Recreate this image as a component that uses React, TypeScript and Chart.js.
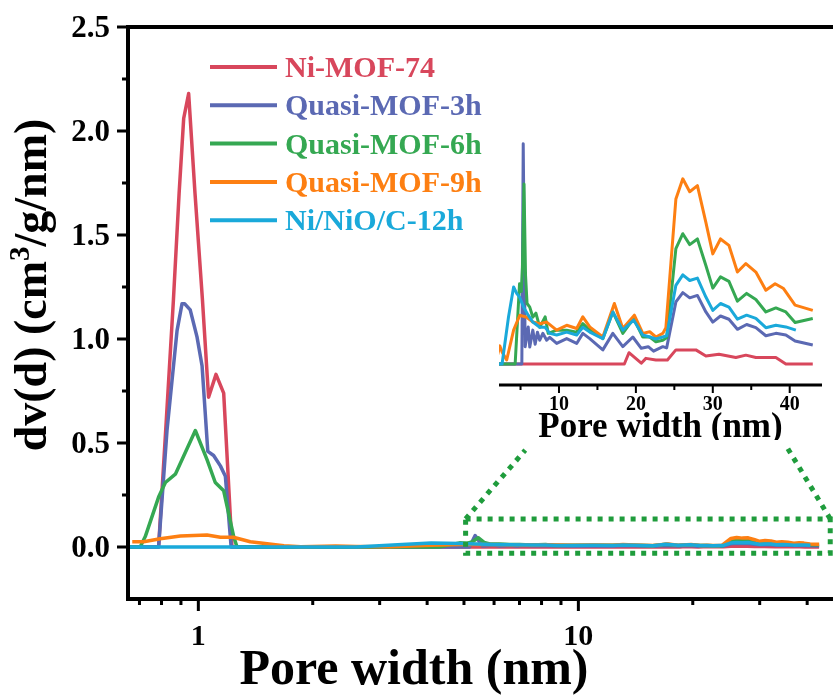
import React, { useEffect, useRef } from "react";
import { Chart, registerables } from "chart.js";

Chart.register(...registerables);

// ---------------- data ----------------
const SERIES_LABELS = ["Ni-MOF-74", "Quasi-MOF-3h", "Quasi-MOF-6h", "Quasi-MOF-9h", "Ni/NiO/C-12h"];
const SERIES_COLORS = ["#d8475c", "#5b69b3", "#35a852", "#fd7f12", "#1aa9da"];

// Pore width (nm)
const niMof74X = [0.653, 0.786, 0.823, 0.86, 0.89, 0.915, 0.943, 0.98, 1.025, 1.064, 1.113, 1.166, 1.226, 18.5, 19.1, 20.7, 21.3, 22.6, 24.1, 25.2, 27.8, 29.1, 30.8, 33.0, 34.3, 35.6, 38.2, 39.5, 43.0];
const niMof74Y = [0, 0, 0.6, 1.19, 1.7, 2.06, 2.18, 1.7, 1.19, 0.72, 0.83, 0.74, 0, 0, 0.0028, 0.0002, 0.0014, 0.001, 0.001, 0.0035, 0.0035, 0.002, 0.0024, 0.0016, 0.0022, 0.0016, 0.0016, 0, 0];

const quasi3hX = [0.653, 0.786, 0.827, 0.879, 0.906, 0.92, 0.952, 0.992, 1.023, 1.059, 1.097, 1.143, 1.178, 1.22, 5.17, 5.35, 5.6, 6.0, 6.2, 6.6, 6.9, 7.2, 7.5, 7.9, 8.4, 8.8, 9.7, 11.0, 12.3, 13.1, 14.0, 15.7, 17.0, 18.3, 19.6, 20.7, 21.6, 22.3, 23.5, 24.0, 25.2, 26.1, 27.0, 28.0, 29.1, 30.0, 31.0, 32.1, 33.2, 34.4, 35.6, 36.9, 38.2, 39.5, 40.7, 43.0];
const quasi3hY = [0, 0, 0.56, 1.04, 1.17, 1.17, 1.14, 1.01, 0.87, 0.46, 0.44, 0.39, 0.34, 0, 0, 0.0546, 0.0043, 0.0092, 0.0042, 0.0084, 0.0049, 0.0079, 0.0059, 0.0076, 0.0059, 0.0066, 0.0051, 0.0063, 0.0051, 0.0076, 0.0063, 0.0035, 0.0076, 0.0043, 0.0067, 0.0039, 0.0043, 0.0032, 0.0043, 0.004, 0.0154, 0.0177, 0.0164, 0.017, 0.0129, 0.0104, 0.0119, 0.0111, 0.0086, 0.0098, 0.009, 0.007, 0.0076, 0.0072, 0.0057, 0.0047];

const quasi6hX = [0.653, 0.703, 0.725, 0.786, 0.819, 0.87, 0.982, 1.054, 1.108, 1.166, 1.239, 1.264, 4.3, 4.87, 5.1, 5.25, 5.45, 5.65, 5.85, 6.2, 6.6, 7.0, 7.5, 8.2, 8.6, 9.7, 11.0, 12.3, 13.1, 14.0, 15.7, 17.0, 18.3, 19.7, 20.9, 21.8, 22.6, 23.5, 24.0, 25.2, 26.1, 27.0, 28.0, 29.1, 30.0, 31.0, 32.1, 33.2, 34.4, 35.6, 36.9, 38.2, 39.5, 40.7, 43.0];
const quasi6hY = [0, 0, 0.05, 0.24, 0.31, 0.35, 0.56, 0.42, 0.31, 0.27, 0.05, 0, 0, 0.0199, 0.018, 0.024, 0.0446, 0.022, 0.015, 0.0141, 0.0116, 0.0126, 0.0091, 0.0117, 0.0076, 0.0084, 0.0084, 0.0079, 0.01, 0.0084, 0.0063, 0.0129, 0.0076, 0.0113, 0.0067, 0.0067, 0.0055, 0.0059, 0.0065, 0.0286, 0.0323, 0.0296, 0.031, 0.0244, 0.0188, 0.0216, 0.0205, 0.0156, 0.0175, 0.016, 0.0129, 0.0139, 0.0129, 0.0103, 0.0113];

const quasi9hX = [0.67, 0.718, 0.794, 0.897, 1.054, 1.143, 1.236, 1.37, 1.68, 1.86, 2.3, 2.6, 3.2, 4.1, 4.9, 5.8, 6.6, 7.5, 8.4, 9.7, 11.0, 12.3, 13.1, 14.0, 15.7, 17.2, 18.3, 19.8, 20.9, 21.8, 22.6, 23.5, 23.9, 25.2, 26.1, 27.0, 28.0, 29.1, 30.0, 31.0, 32.1, 33.2, 34.3, 35.6, 36.9, 38.1, 39.2, 40.7, 43.0];
const quasi9hY = [0.025, 0.025, 0.04, 0.053, 0.058, 0.047, 0.047, 0.025, 0.006, 0.001, 0.0045, 0.003, 0.001, 0.0084, 0.0121, 0.0116, 0.0104, 0.01, 0.0104, 0.0084, 0.0096, 0.0088, 0.0117, 0.0092, 0.0067, 0.015, 0.0088, 0.0121, 0.0076, 0.008, 0.0067, 0.0076, 0.009, 0.0409, 0.0459, 0.0427, 0.0442, 0.0351, 0.0273, 0.031, 0.0294, 0.0228, 0.0249, 0.0228, 0.0183, 0.0199, 0.0187, 0.0146, 0.0133];

const niNiOCX = [0.653, 2.6, 3.44, 4.1, 4.5, 4.9, 5.4, 6.0, 6.6, 7.5, 8.2, 8.8, 9.7, 11.0, 12.3, 13.1, 14.0, 15.7, 17.0, 18.3, 19.7, 20.9, 21.8, 22.6, 23.5, 24.0, 25.2, 26.1, 27.0, 28.0, 29.1, 30.0, 31.0, 32.1, 33.2, 34.4, 35.6, 36.9, 38.2, 39.5, 40.8];
const niNiOCY = [0, 0, 0.0117, 0.0191, 0.0175, 0.0165, 0.0141, 0.0121, 0.0104, 0.0091, 0.0091, 0.0076, 0.0072, 0.0079, 0.0072, 0.0091, 0.0079, 0.0063, 0.0129, 0.0084, 0.0109, 0.0072, 0.0067, 0.0062, 0.0067, 0.007, 0.0195, 0.0221, 0.0207, 0.0213, 0.0166, 0.0133, 0.015, 0.0141, 0.0111, 0.0121, 0.0113, 0.009, 0.0096, 0.0092, 0.0084];

// axes
const MAIN_X_RANGE = [0.653, 50];
const MAIN_Y_RANGE = [-0.25, 2.5];
const MAIN_X_MAJOR = [1, 10];
const MAIN_X_LABELS = ["1", "10"];
const MAIN_X_MINOR = [0.7, 0.8, 0.9, 2, 3, 4, 5, 6, 7, 8, 9, 20, 30, 40];
const MAIN_Y_MAJOR = [0, 0.5, 1, 1.5, 2, 2.5];
const MAIN_Y_LABELS = ["0.0", "0.5", "1.0", "1.5", "2.0", "2.5"];
const MAIN_Y_MINOR = [0.25, 0.75, 1.25, 1.75, 2.25];

const INSET_X_RANGE = [2.2, 44.2];
const INSET_Y_RANGE = [-0.0052, 0.058];
const INSET_X_MAJOR = [10, 20, 30, 40];
const INSET_X_LABELS = ["10", "20", "30", "40"];
const INSET_X_MINOR = [5, 15, 25, 35];

// zoom-box annotation (data coordinates of main chart)
const ZOOM_BOX_X = [5.05, 46];
const ZOOM_BOX_Y = [-0.03, 0.135];
const ZOOM_LINK_LEFT = [7.25, 0.466];
const ZOOM_LINK_RIGHT = [35.5, 0.476];

const X_TITLE = "Pore width (nm)";
const Y_TITLE_PARTS = ["dv(d) (cm", "3", "/g/nm)"];

// ---------------- helpers ----------------
const SERIF = "'Liberation Serif', 'Times New Roman', serif";
const f = (size: number) => `bold ${size}px ${SERIF}`;

const SERIES = [
  { label: SERIES_LABELS[0], color: SERIES_COLORS[0], xs: niMof74X, ys: niMof74Y },
  { label: SERIES_LABELS[1], color: SERIES_COLORS[1], xs: quasi3hX, ys: quasi3hY },
  { label: SERIES_LABELS[2], color: SERIES_COLORS[2], xs: quasi6hX, ys: quasi6hY },
  { label: SERIES_LABELS[3], color: SERIES_COLORS[3], xs: quasi9hX, ys: quasi9hY },
  { label: SERIES_LABELS[4], color: SERIES_COLORS[4], xs: niNiOCX, ys: niNiOCY },
];

function buildDatasets(width: number) {
  return SERIES.map((s, i) => ({
    label: s.label,
    data: s.xs.map((x, k) => ({ x, y: s.ys[k] })),
    borderColor: s.color,
    backgroundColor: s.color,
    borderWidth: width,
    pointRadius: 0,
    tension: 0,
    fill: false,
    borderJoinStyle: "round",
    order: SERIES.length - 1 - i,
  }));
}

const mainDecor = {
  id: "mainDecor",
  afterDatasetsDraw(chart: any) {
    const ctx = chart.ctx as CanvasRenderingContext2D;
    const a = chart.chartArea;
    const xs = chart.scales.x;
    const ys = chart.scales.y;
    ctx.save();

    // dotted zoom box + connectors
    ctx.strokeStyle = "#1f9c3c";
    ctx.lineWidth = 5;
    ctx.setLineDash([5, 6]);
    const bx1 = xs.getPixelForValue(ZOOM_BOX_X[0]);
    const bx2 = xs.getPixelForValue(ZOOM_BOX_X[1]);
    const by1 = ys.getPixelForValue(ZOOM_BOX_Y[1]);
    const by2 = ys.getPixelForValue(ZOOM_BOX_Y[0]);
    ctx.strokeRect(bx1, by1, bx2 - bx1, by2 - by1);
    ctx.beginPath();
    ctx.moveTo(bx1, by1);
    ctx.lineTo(xs.getPixelForValue(ZOOM_LINK_LEFT[0]), ys.getPixelForValue(ZOOM_LINK_LEFT[1]));
    ctx.moveTo(bx2, by1);
    ctx.lineTo(xs.getPixelForValue(ZOOM_LINK_RIGHT[0]), ys.getPixelForValue(ZOOM_LINK_RIGHT[1]));
    ctx.stroke();
    ctx.setLineDash([]);

    // frame
    ctx.strokeStyle = "#000";
    ctx.lineWidth = 4;
    ctx.strokeRect(a.left, a.top, a.right - a.left, a.bottom - a.top);

    // ticks
    ctx.lineWidth = 3;
    ctx.beginPath();
    MAIN_X_MAJOR.forEach((v) => {
      const p = xs.getPixelForValue(v);
      ctx.moveTo(p, a.bottom);
      ctx.lineTo(p, a.bottom + 12);
    });
    MAIN_X_MINOR.forEach((v) => {
      const p = xs.getPixelForValue(v);
      ctx.moveTo(p, a.bottom);
      ctx.lineTo(p, a.bottom + 6);
    });
    MAIN_Y_MAJOR.forEach((v) => {
      const p = ys.getPixelForValue(v);
      ctx.moveTo(a.left - 11, p);
      ctx.lineTo(a.left, p);
    });
    MAIN_Y_MINOR.forEach((v) => {
      const p = ys.getPixelForValue(v);
      ctx.moveTo(a.left - 6, p);
      ctx.lineTo(a.left, p);
    });
    ctx.stroke();

    // tick labels
    ctx.fillStyle = "#000";
    ctx.font = f(31);
    ctx.textBaseline = "alphabetic";
    ctx.textAlign = "right";
    MAIN_Y_MAJOR.forEach((v, i) => {
      ctx.fillText(MAIN_Y_LABELS[i], a.left - 18, ys.getPixelForValue(v) + 10);
    });
    ctx.font = f(30);
    ctx.textAlign = "center";
    MAIN_X_MAJOR.forEach((v, i) => {
      ctx.fillText(MAIN_X_LABELS[i], xs.getPixelForValue(v), a.bottom + 46);
    });

    // x title
    ctx.font = f(50);
    ctx.fillText(X_TITLE, 414, 684);

    // y title (rotated, with superscript)
    ctx.save();
    ctx.translate(46, 285);
    ctx.rotate(-Math.PI / 2);
    ctx.textAlign = "left";
    ctx.font = f(46);
    const w1 = ctx.measureText(Y_TITLE_PARTS[0]).width;
    const w3 = ctx.measureText(Y_TITLE_PARTS[2]).width;
    ctx.font = f(29);
    const w2 = ctx.measureText(Y_TITLE_PARTS[1]).width;
    let x0 = -(w1 + w2 + w3) / 2;
    ctx.font = f(46);
    ctx.fillText(Y_TITLE_PARTS[0], x0, 0);
    x0 += w1;
    ctx.font = f(29);
    ctx.fillText(Y_TITLE_PARTS[1], x0, -17);
    x0 += w2;
    ctx.font = f(46);
    ctx.fillText(Y_TITLE_PARTS[2], x0, 0);
    ctx.restore();

    // legend
    ctx.textAlign = "left";
    ctx.font = f(30);
    chart.data.datasets.forEach((ds: any, i: number) => {
      const y = 67 + i * 38.3;
      ctx.strokeStyle = ds.borderColor;
      ctx.lineWidth = 4;
      ctx.beginPath();
      ctx.moveTo(210, y);
      ctx.lineTo(277, y);
      ctx.stroke();
      ctx.fillStyle = ds.borderColor;
      ctx.fillText(ds.label, 285, y + 10);
    });

    ctx.restore();
  },
};

const insetDecor = {
  id: "insetDecor",
  afterDatasetsDraw(chart: any) {
    const ctx = chart.ctx as CanvasRenderingContext2D;
    const a = chart.chartArea;
    const xs = chart.scales.x;
    ctx.save();
    ctx.strokeStyle = "#000";
    ctx.lineWidth = 3;
    ctx.beginPath();
    ctx.moveTo(a.left, a.bottom);
    ctx.lineTo(a.right, a.bottom);
    ctx.stroke();
    ctx.lineWidth = 2;
    ctx.beginPath();
    INSET_X_MAJOR.forEach((v) => {
      const p = xs.getPixelForValue(v);
      ctx.moveTo(p, a.bottom);
      ctx.lineTo(p, a.bottom + 8);
    });
    INSET_X_MINOR.forEach((v) => {
      const p = xs.getPixelForValue(v);
      ctx.moveTo(p, a.bottom);
      ctx.lineTo(p, a.bottom + 5);
    });
    ctx.stroke();
    ctx.fillStyle = "#000";
    ctx.textAlign = "center";
    ctx.textBaseline = "alphabetic";
    ctx.font = f(20);
    INSET_X_MAJOR.forEach((v, i) => {
      ctx.fillText(INSET_X_LABELS[i], xs.getPixelForValue(v), a.bottom + 25);
    });
    ctx.font = f(35);
    ctx.fillText(X_TITLE, (a.left + a.right) / 2, a.bottom + 52);
    ctx.restore();
  },
};

export default function App() {
  const mainRef = useRef<HTMLCanvasElement>(null);
  const insetRef = useRef<HTMLCanvasElement>(null);

  useEffect(() => {
    const common = {
      animation: false as const,
      responsive: false,
      devicePixelRatio: 1,
      plugins: { legend: { display: false }, tooltip: { enabled: false } },
      events: [] as any[],
    };
    const main = new Chart(mainRef.current!, {
      type: "line",
      data: { datasets: buildDatasets(3.5) as any },
      options: {
        ...common,
        layout: { padding: { left: 128, top: 27, right: 0, bottom: 98 } },
        scales: {
          x: { type: "logarithmic", min: MAIN_X_RANGE[0], max: MAIN_X_RANGE[1], display: false },
          y: { type: "linear", min: MAIN_Y_RANGE[0], max: MAIN_Y_RANGE[1], display: false },
        },
      } as any,
      plugins: [mainDecor],
    });
    const inset = new Chart(insetRef.current!, {
      type: "line",
      data: { datasets: buildDatasets(3) as any },
      options: {
        ...common,
        layout: { padding: { left: 29, top: 10, right: 11, bottom: 55 } },
        scales: {
          x: { type: "linear", min: INSET_X_RANGE[0], max: INSET_X_RANGE[1], display: false },
          y: { type: "linear", min: INSET_Y_RANGE[0], max: INSET_Y_RANGE[1], display: false },
        },
      } as any,
      plugins: [insetDecor],
    });
    return () => {
      main.destroy();
      inset.destroy();
    };
  }, []);

  return (
    <div style={{ position: "absolute", left: 0, top: 0, width: 833, height: 697, overflow: "hidden", background: "#fff" }}>
      <canvas ref={mainRef} width={844} height={697} style={{ position: "absolute", left: 0, top: 0 }} />
      <canvas ref={insetRef} width={363} height={320} style={{ position: "absolute", left: 470, top: 120 }} />
    </div>
  );
}
